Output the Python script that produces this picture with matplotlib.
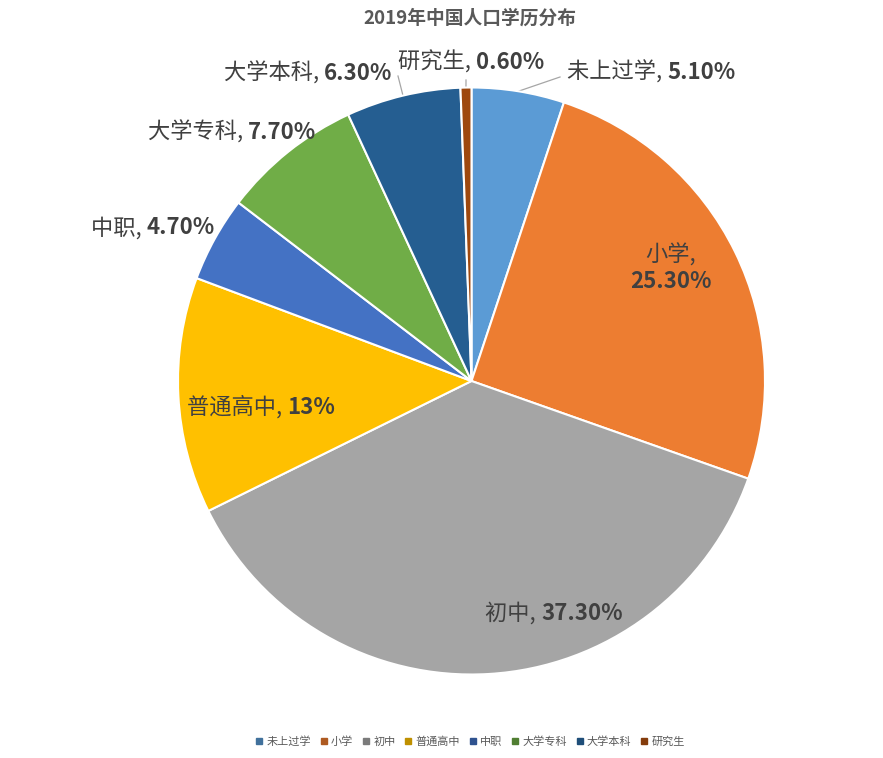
import numpy as np
import matplotlib.pyplot as plt
from matplotlib.lines import Line2D
from matplotlib.offsetbox import TextArea, HPacker, VPacker, AnnotationBbox

plt.rcParams['font.family'] = ['Noto Sans CJK SC', 'DejaVu Sans']

# data
categories = ['未上过学', '小学', '初中', '普通高中', '中职', '大学专科', '大学本科', '研究生']
shares = [5.1, 25.3, 37.3, 13, 4.7, 7.7, 6.3, 0.6]

colors = ['#5B9BD5', '#ED7D31', '#A5A5A5', '#FFC000', '#4472C4', '#70AD47', '#255E91', '#9E480E']
legend_colors = ['#41719C', '#AE5A21', '#7B7B7B', '#BF9000', '#2F528F', '#507E32', '#1F4E79', '#843C0C']

# label centres in pixels of the 883x758 picture (top-left origin)
label_px = [(651, 72), (671, 268), (554, 613), (261, 407),
            (153, 228), (232, 132), (308, 73), (471, 62)]
# start of leader lines (None = no leader)
leader_px = [(560, 77), None, None, None, None, None, (398, 76), (466, 80)]

cx, cy, R = 471.5, 381, 293.5


def to_data(p):
    return (p[0] - cx) / R, (cy - p[1]) / R


def fmt(v):
    return f'{v:g}%' if v == int(v) else f'{v:.2f}%'


fig = plt.figure(figsize=(8.83, 7.58), dpi=100)
ax = fig.add_axes([(cx - R) / 883, (758 - cy - R) / 758, 2 * R / 883, 2 * R / 758])

wedges, _ = ax.pie(shares, colors=colors, startangle=90, counterclock=False,
                   radius=1, wedgeprops=dict(edgecolor='white', linewidth=1.5))
ax.set_xlim(-1, 1)
ax.set_ylim(-1, 1)
ax.set_aspect('equal')
ax.axis('off')

txt_col = '#404040'
name_style = dict(fontsize=16, color=txt_col, fontweight='normal')
val_style = dict(fontsize=16, color=txt_col, fontweight='bold')

for i, w in enumerate(wedges):
    name = categories[i]
    val = fmt(shares[i])
    if i == 1:
        box = VPacker(children=[TextArea(name + ',', textprops=name_style),
                                TextArea(val, textprops=val_style)],
                      align='center', pad=0, sep=2)
    else:
        box = HPacker(children=[TextArea(name + ', ', textprops=name_style),
                                TextArea(val, textprops=val_style)],
                      align='baseline', pad=0, sep=0)
    ab = AnnotationBbox(box, to_data(label_px[i]), xycoords='data', frameon=False,
                        box_alignment=(0.5, 0.5), annotation_clip=False)
    ax.add_artist(ab)

    if leader_px[i] is not None:
        mid = np.deg2rad((w.theta1 + w.theta2) / 2)
        x0, y0 = to_data(leader_px[i])
        ax.plot([x0, np.cos(mid)], [y0, np.sin(mid)], color='#A6A6A6',
                linewidth=0.9, clip_on=False, zorder=0)

fig.text(470 / 883, 1 - 18 / 758, '2019年中国人口学历分布', ha='center', va='center',
         fontsize=13.5, fontweight='bold', color='#595959')

handles = [Line2D([], [], marker='s', linestyle='none', markersize=5,
                  markerfacecolor=c, markeredgecolor=c) for c in legend_colors]
leg = fig.legend(handles, categories, loc='center', ncol=8, frameon=False,
                 bbox_to_anchor=(470 / 883, 1 - 742 / 758), fontsize=8,
                 handlelength=0.7, handletextpad=0.3, columnspacing=0.8)
for t in leg.get_texts():
    t.set_color('#595959')

fig.savefig('out.png', dpi=100)
